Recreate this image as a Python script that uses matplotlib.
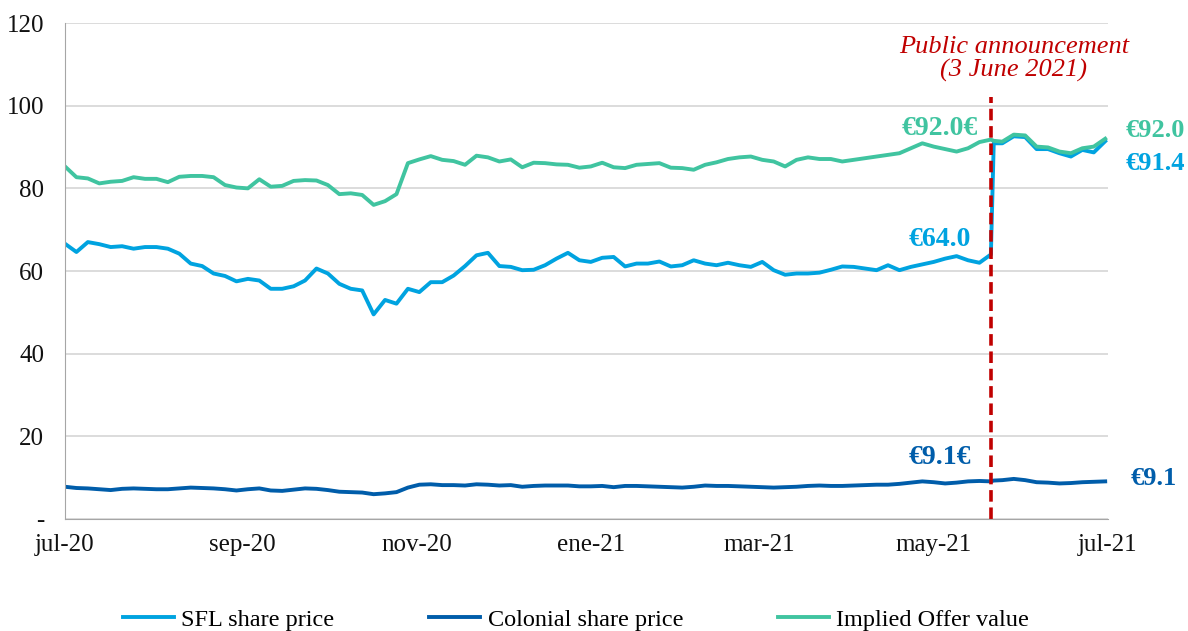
import pandas as pd
import matplotlib
matplotlib.use('Agg')
import matplotlib.pyplot as plt
import matplotlib.dates as mdates

plt.rcParams['font.family'] = ['Liberation Serif', 'DejaVu Serif']

# sample dates: days after 14 Jul 2020
start = pd.Timestamp('2020-07-14')
end = pd.Timestamp('2021-07-14')
day_offsets = list(range(0, 325, 4)) + [325] + list(range(328, 365, 4))
dates = start + pd.to_timedelta(day_offsets, unit='D')

sfl = [66.6, 64.6, 67.0, 66.5, 65.8, 66.0, 65.4, 65.8, 65.8, 65.4,
       64.2, 61.8, 61.2, 59.4, 58.8, 57.5, 58.1, 57.7, 55.7, 55.7,
       56.3, 57.7, 60.6, 59.4, 56.9, 55.7, 55.3, 49.5, 53.0, 52.1,
       55.7, 54.9, 57.3, 57.3, 58.9, 61.2, 63.8, 64.4, 61.2, 61.0,
       60.2, 60.3, 61.4, 63.0, 64.4, 62.6, 62.2, 63.2, 63.4, 61.1,
       61.8, 61.8, 62.3, 61.1, 61.4, 62.6, 61.8, 61.4, 62.0, 61.4,
       61.0, 62.2, 60.2, 59.1, 59.4, 59.4, 59.6, 60.3, 61.1, 61.0,
       60.6, 60.2, 61.4, 60.2, 61.0, 61.6, 62.2, 63.0, 63.6, 62.6,
       62.0, 64.0,
       90.9, 90.9, 92.6, 92.4, 89.5, 89.5, 88.5, 87.7, 89.3, 88.7, 91.4]

colonial = [7.8, 7.5, 7.4, 7.2, 7.0, 7.3, 7.4, 7.3, 7.2, 7.2,
            7.4, 7.6, 7.5, 7.4, 7.2, 6.9, 7.2, 7.4, 6.9, 6.8,
            7.1, 7.4, 7.3, 7.0, 6.6, 6.5, 6.4, 6.0, 6.2, 6.5,
            7.6, 8.3, 8.4, 8.2, 8.2, 8.1, 8.4, 8.3, 8.1, 8.2,
            7.8, 8.0, 8.1, 8.1, 8.1, 7.9, 7.9, 8.0, 7.7, 8.0,
            8.0, 7.9, 7.8, 7.7, 7.6, 7.8, 8.1, 8.0, 8.0, 7.9,
            7.8, 7.7, 7.6, 7.7, 7.8, 8.0, 8.1, 8.0, 8.0, 8.1,
            8.2, 8.3, 8.3, 8.5, 8.8, 9.1, 8.9, 8.6, 8.8, 9.1,
            9.2, 9.1,
            9.3, 9.4, 9.7, 9.4, 8.9, 8.8, 8.6, 8.7, 8.9, 9.0, 9.1]

offer = [85.3, 82.7, 82.4, 81.2, 81.6, 81.8, 82.7, 82.3, 82.3, 81.5,
         82.8, 83.0, 83.0, 82.7, 80.8, 80.2, 80.0, 82.2, 80.4, 80.6,
         81.8, 82.0, 81.9, 80.8, 78.6, 78.8, 78.4, 76.0, 76.9, 78.6,
         86.1, 87.0, 87.8, 86.9, 86.6, 85.7, 87.9, 87.5, 86.5, 87.0,
         85.1, 86.2, 86.1, 85.8, 85.7, 85.0, 85.3, 86.2, 85.1, 84.9,
         85.7, 85.9, 86.1, 85.0, 84.9, 84.5, 85.7, 86.3, 87.1, 87.5,
         87.7, 86.9, 86.5, 85.3, 86.9, 87.5, 87.1, 87.1, 86.5, 86.9,
         87.3, 87.7, 88.1, 88.5, 89.7, 90.9, 90.1, 89.5, 88.9, 89.7,
         91.2, 91.8,
         91.5, 91.3, 93.0, 92.8, 90.1, 89.9, 88.9, 88.5, 89.7, 90.1, 92.0]

tick_dates = ['2020-07-14', '2020-09-14', '2020-11-14', '2021-01-14',
              '2021-03-14', '2021-05-14', '2021-07-14']
tick_labels = ['jul-20', 'sep-20', 'nov-20', 'ene-21', 'mar-21', 'may-21', 'jul-21']
y_ticks = [0, 20, 40, 60, 80, 100, 120]
y_labels = ['-', '20', '40', '60', '80', '100', '120']

announcement = pd.Timestamp('2021-06-03')

c_sfl = '#00A3E0'
c_col = '#005DAA'
c_off = '#40C4A0'
c_red = '#C00000'

fig = plt.figure(figsize=(11.88, 6.31), dpi=100)
ax = fig.add_axes([0.0547, 0.1775, 0.878, 0.786])

ax.plot(dates, sfl, color=c_sfl, lw=2.8, label='SFL share price', solid_joinstyle='round')
ax.plot(dates, colonial, color=c_col, lw=2.8, label='Colonial share price')
ax.plot(dates, offer, color=c_off, lw=2.8, label='Implied Offer value', solid_joinstyle='round')
ax.plot([announcement, announcement], [0, 102], color=c_red, lw=2.6,
        ls=(0, (3.2, 1.6)), clip_on=False)

ax.set_xlim(start, end)
ax.set_ylim(0, 120)
ax.set_xticks(pd.to_datetime(tick_dates))
ax.set_xticklabels(tick_labels)
ax.set_yticks(y_ticks)
ax.set_yticklabels(y_labels)
ax.tick_params(axis='both', length=0, labelsize=18, colors='#111111')
ax.tick_params(axis='x', pad=11)
ax.tick_params(axis='y', pad=15)
ax.grid(axis='y', color='#D9D9D9', lw=1.3)
ax.set_axisbelow(True)
for s in ['top', 'right']:
    ax.spines[s].set_visible(False)
ax.spines['left'].set_color('#A6A6A6')
ax.spines['bottom'].set_color('#A6A6A6')

def dn(s):
    return mdates.date2num(pd.Timestamp(s))

ax.text(dn('2021-06-11'), 111.3, 'Public announcement\n(3 June 2021)', ha='center', va='center',
        style='italic', color=c_red, fontsize=19, linespacing=1.05, clip_on=False)

mid = dn('2021-05-16')
ax.text(mid, 94.6, '€92.0€', ha='center', va='center', color=c_off, fontsize=20, fontweight='bold')
ax.text(mid, 67.7, '€64.0', ha='center', va='center', color=c_sfl, fontsize=20, fontweight='bold')
ax.text(mid, 15.0, '€9.1€', ha='center', va='center', color=c_col, fontsize=20, fontweight='bold')

right = dn('2021-07-20')
ax.text(right, 93.9, '€92.0', ha='left', va='center', color=c_off, fontsize=19, fontweight='bold', clip_on=False)
ax.text(right, 86.1, '€91.4', ha='left', va='center', color=c_sfl, fontsize=19, fontweight='bold', clip_on=False)
ax.text(dn('2021-07-22'), 9.7, '€9.1', ha='left', va='center', color=c_col, fontsize=19, fontweight='bold', clip_on=False)

fig.legend(loc='center', bbox_to_anchor=(0.485, 0.018), ncol=3, frameon=False, fontsize=17.5,
           handlelength=2.1, handletextpad=0.3, columnspacing=3.9)

fig.savefig('out.png', dpi=100)
